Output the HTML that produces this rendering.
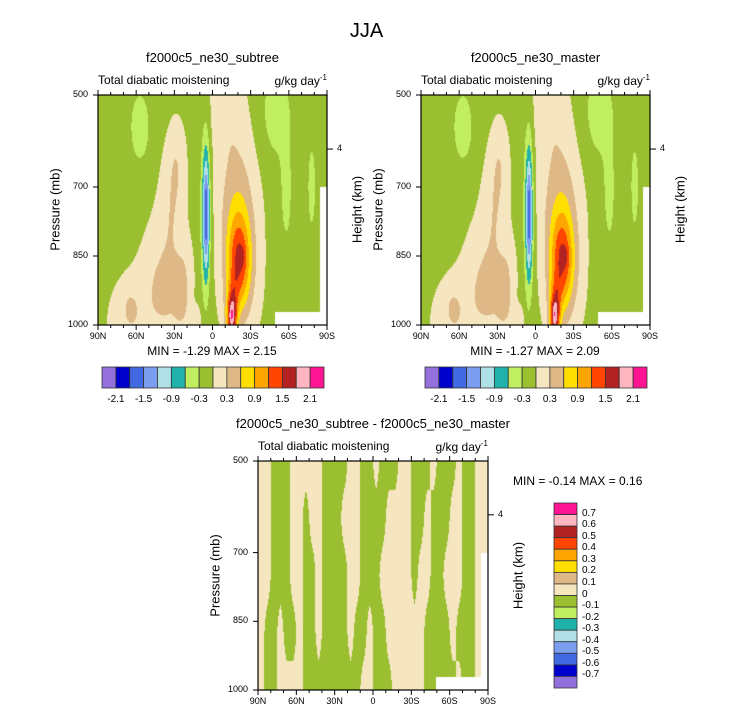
<!DOCTYPE html>
<html><head><meta charset="utf-8"><style>
body{margin:0;background:#fff;}
#root{position:relative;width:733px;height:715px;overflow:hidden;font-family:"Liberation Sans",sans-serif;color:#000;}
.t{position:absolute;white-space:nowrap;}
canvas{position:absolute;}
svg{position:absolute;left:0;top:0;}
</style></head><body>
<div id="root">
<div class="t" style="left:0;width:733px;text-align:center;top:20px;font-size:20px;">JJA</div>
<canvas id="c1" width="229" height="230" style="left:98px;top:95px"></canvas>
<canvas id="c2" width="229" height="230" style="left:421px;top:95px"></canvas>
<canvas id="c3" width="230" height="229" style="left:258px;top:461px"></canvas>
<svg id="ov" width="733" height="715"></svg>
</div>
<script>
// ---- data ----
const levelsA = [-2.1,-1.8,-1.5,-1.2,-0.9,-0.6,-0.3,0,0.3,0.6,0.9,1.2,1.5,1.8,2.1];
const levelsD = [-0.7,-0.6,-0.5,-0.4,-0.3,-0.2,-0.1,0,0.1,0.2,0.3,0.4,0.5,0.6,0.7];
const colors = ["#9370db","#0000cd","#4169e1","#7b9ef0","#b0e0e6","#20b2aa","#c0ee60","#9aBF30","#f5e6c0","#deb887","#ffdf00","#ffa500","#ff4500","#b22222","#ffb6c1","#ff1493"];
const latTicks = ["90N","60N","30N","0","30S","60S","90S"];
const presTicks = [500,700,850,1000];
const cbLabelsA = ["-2.1","-1.5","-0.9","-0.3","0.3","0.9","1.5","2.1"];
const baseA = -0.1, baseB = -0.1;
// [lat(N+), pressure, amplitude, lat width, pressure width]
const featA = [
 [62,1000,0.3,20,110],[40,890,0.3,16,130],[32,740,0.3,10,130],[28,640,0.25,7,90],
 [-10,520,0.28,14,100],[-18,690,0.3,18,150],[-22,900,0.3,16,150],
 [35,930,0.3,10,60],[22,900,0.3,7,80],[65,960,0.2,6,40],[25,965,0.35,5,35],[12,990,0.4,3,30],
 [6,740,-0.3,5,240],[5,760,-1.45,2.6,130],
 [-21,860,1.0,9,100],[-15,985,1.7,4,45],[-16,930,0.4,5,50],[-20,810,0.35,13,160],[-23,850,0.25,3,20],
 [57,570,-0.35,9,90],[-50,540,-0.35,13,110],[-58,720,-0.3,5,120],[-78,700,-0.3,4,120]];
const featB = [
 [62,1000,0.3,20,110],[40,890,0.3,16,130],[32,740,0.3,10,130],[28,640,0.25,7,90],
 [-10,520,0.28,14,100],[-18,690,0.3,18,150],[-22,900,0.3,16,150],
 [35,930,0.3,10,60],[22,900,0.3,7,80],[65,960,0.2,6,40],[25,965,0.35,5,35],[12,990,0.4,3,30],
 [6,740,-0.3,5,240],[5,760,-1.43,2.6,130],
 [-21,860,0.98,9,100],[-15,985,1.65,4,45],[-16,930,0.4,5,50],[-20,810,0.35,13,160],[-23,850,0.25,3,20],
 [57,570,-0.35,9,90],[-50,540,-0.35,13,110],[-58,720,-0.3,5,120],[-78,700,-0.3,4,120]];
const minmaxA = ["-1.29","2.15"], minmaxB = ["-1.27","2.09"], minmaxD = ["-0.14","0.16"];
// difference field: sign per 5-degree bin from 90N to 90S at five pressure rows
const diffR1 = [1,1,-1,-1,-1,1,1,1,1,1,-1,-1,-1,-1,1,1,-1,-1,1,-1,-1,-1,1,1,-1,-1,-1,1,-1,-1,-1,1,-1,-1,1,1];
const diffR2 = [1,1,-1,-1,-1,1,1,-1,1,1,-1,-1,-1,1,1,1,-1,-1,-1,-1,1,1,1,1,-1,-1,1,-1,-1,-1,1,1,-1,-1,1,1];
const diffR3 = [1,1,-1,-1,-1,1,1,-1,-1,1,-1,-1,-1,-1,1,1,-1,-1,-1,1,1,1,1,1,-1,1,1,-1,-1,1,1,1,-1,-1,1,1];
const diffR4 = [1,-1,-1,1,-1,-1,1,-1,-1,1,-1,-1,-1,-1,1,-1,-1,1,-1,-1,1,1,1,1,1,1,-1,-1,-1,-1,1,-1,-1,-1,1,1];
const diffR5 = [1,-1,-1,1,1,1,1,-1,-1,-1,-1,-1,-1,-1,-1,-1,1,1,-1,-1,-1,1,1,1,1,1,-1,-1,-1,-1,-1,1,-1,-1,1,1];

function hex(c){return [parseInt(c.substr(1,2),16),parseInt(c.substr(3,2),16),parseInt(c.substr(5,2),16)];}
function colorFor(v,lev){let i=0;while(i<lev.length&&v>=lev[i])i++;return hex(colors[i]);}
function field(feats,base,lat,p){let v=base;for(const f of feats){const a=(lat-f[0])/f[3],b=(p-f[1])/f[4];v+=f[2]*Math.exp(-a*a-b*b);}return v;}
function interpRow(row,lat){const x=(90-lat)/5-0.5;const i=Math.max(0,Math.min(row.length-1,Math.floor(x)));const j=Math.min(row.length-1,i+1);const t=Math.max(0,Math.min(1,x-i));return row[i]*(1-t)+row[j]*t;}
const diffRows=[diffR1,diffR2,diffR3,diffR4,diffR5];
function diffField(lat,p){const t=(p-500)/500*(diffRows.length-1);const i=Math.min(diffRows.length-2,Math.floor(t));const s=t-i;return 0.05*(interpRow(diffRows[i],lat)*(1-s)+interpRow(diffRows[i+1],lat)*s);}
function paint(id,fn,lev){const c=document.getElementById(id),ctx=c.getContext('2d'),W=c.width,H=c.height;const img=ctx.createImageData(W,H);
 for(let y=0;y<H;y++){const p=500+500*(y+0.5)/H;for(let x=0;x<W;x++){const lat=90-180*(x+0.5)/W;const col=colorFor(fn(lat,p),lev);const k=(y*W+x)*4;img.data[k]=col[0];img.data[k+1]=col[1];img.data[k+2]=col[2];img.data[k+3]=255;}}
 ctx.putImageData(img,0,0);ctx.fillStyle="#fff";ctx.fillRect(Math.round(W*0.775),Math.round(H*0.945),W,H);ctx.fillRect(Math.round(W*0.97),Math.round(H*0.4),W,H);}
paint('c1',(l,p)=>field(featA,baseA,l,p),levelsA);
paint('c2',(l,p)=>field(featB,baseB,l,p),levelsA);
paint('c3',diffField,levelsD);

const ov=document.getElementById('ov'),root=document.getElementById('root');const NS="http://www.w3.org/2000/svg";
function ln(x1,y1,x2,y2,w){const e=document.createElementNS(NS,'line');e.setAttribute('x1',x1);e.setAttribute('y1',y1);e.setAttribute('x2',x2);e.setAttribute('y2',y2);e.setAttribute('stroke','#000');e.setAttribute('stroke-width',w||1);ov.appendChild(e);return e;}
function txt(s,x,y,size,align,name,extra){const d=document.createElement('div');d.className='t';d.textContent=s;d.style.fontSize=size+'px';d.style.top=y+'px';
 if(align==='c'){d.style.left=(x-150)+'px';d.style.width='300px';d.style.textAlign='center';}else if(align==='r'){d.style.left=(x-200)+'px';d.style.width='200px';d.style.textAlign='right';}else d.style.left=x+'px';
 if(extra)d.style.cssText+=extra;
 
 
 root.appendChild(d);return d;}
function panel(x0,y0,W,H,title,mm,mmPos){
 const r=document.createElementNS(NS,'rect');r.setAttribute('x',x0);r.setAttribute('y',y0);r.setAttribute('width',W);r.setAttribute('height',H);r.setAttribute('fill','none');r.setAttribute('stroke','#000');r.setAttribute('stroke-width',1.2);
 
 
 ov.appendChild(r);
 for(let k=0;k<=18;k++){const x=x0+W*k/18;const L=(k%3===0)?5:3;ln(x,y0+H,x,y0+H+L);ln(x,y0,x,y0-L);}
 latTicks.forEach((s,i)=>{txt(s,x0+W*i/6,y0+H+6,9,'c','x-tick-label');});
 presTicks.forEach(p=>{const y=y0+H*(p-500)/500;ln(x0-5,y,x0,y);txt(String(p),x0-10,y-6,9,'r','y-tick-label');});
 const hy=y0+H*0.235;ln(x0+W,hy,x0+W+6,hy);txt("4",x0+W+10,hy-6,9,'l','height-tick-label');
 txt(title,x0+W/2,y0-45,13,'c','panel-title');
 txt("Total diabatic moistening",x0,y0-22,12,'l','panel-subtitle');
 const u=txt("",x0+W,y0-22,12,'r','units-label');u.innerHTML='g/kg day<sup style="font-size:8px">-1</sup>';
 const pl=txt("Pressure (mb)",x0-43,y0+H/2-8,13,'c','y-axis-title');pl.style.transform='rotate(-90deg)';pl.style.left=(x0-43-150)+'px';
 const hl=txt("Height (km)",x0+W+30,y0+H/2-8,13,'c','right-axis-title');hl.style.transform='rotate(-90deg)';hl.style.left=(x0+W+30-150)+'px';
 txt("MIN =  "+mm[0]+"  MAX =   "+mm[1],mmPos[0],mmPos[1],12,mmPos[2],'min-max-label');
}
panel(98,95,229,230,"f2000c5_ne30_subtree",minmaxA,[212,344,'c']);
panel(421,95,229,230,"f2000c5_ne30_master",minmaxB,[535,344,'c']);
panel(258,461,230,229,"f2000c5_ne30_subtree - f2000c5_ne30_master",minmaxD,[513,474,'l']);

function hbar(x0,y0){const bw=222/16;colors.forEach((c,i)=>{const r=document.createElementNS(NS,'rect');r.setAttribute('x',x0+i*bw);r.setAttribute('y',y0);r.setAttribute('width',bw);r.setAttribute('height',21);r.setAttribute('fill',c);r.setAttribute('stroke','#333');r.setAttribute('stroke-width',0.8);
 
 
 ov.appendChild(r);});
 cbLabelsA.forEach((s,i)=>{txt(s,x0+bw*(1+2*i),y0+27,10,'c','colorbar-label');});}
hbar(102,367);hbar(425,367);
(function(){const x0=554,y0=503,bh=185/16;for(let i=0;i<16;i++){const r=document.createElementNS(NS,'rect');r.setAttribute('x',x0);r.setAttribute('y',y0+i*bh);r.setAttribute('width',23);r.setAttribute('height',bh);r.setAttribute('fill',colors[15-i]);r.setAttribute('stroke','#333');r.setAttribute('stroke-width',0.8);
 
 
 ov.appendChild(r);}
 for(let i=0;i<15;i++){const s=levelsD[14-i];txt((s===0?" ":"")+String(s),582,y0+(i+1)*bh-7,10,'l','diff-colorbar-label');}})();
</script>
</body></html>
